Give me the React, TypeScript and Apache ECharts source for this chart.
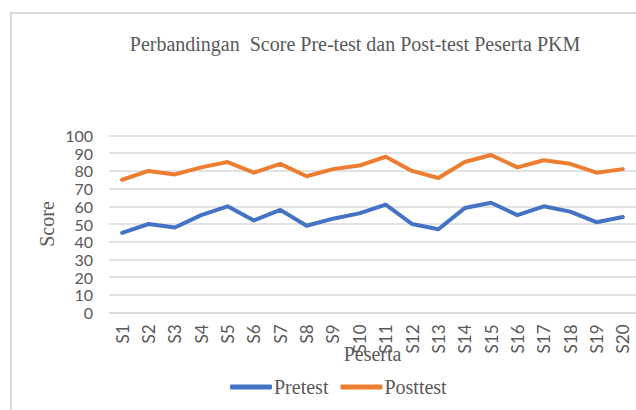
import React, { useEffect, useRef } from "react";
import * as echarts from "echarts";

const categories = ["S1","S2","S3","S4","S5","S6","S7","S8","S9","S10","S11","S12","S13","S14","S15","S16","S17","S18","S19","S20"];
const pretest = [45, 50, 48, 55, 60, 52, 58, 49, 53, 56, 61, 50, 47, 59, 62, 55, 60, 57, 51, 54];
const posttest = [75, 80, 78, 82, 85, 79, 84, 77, 81, 83, 88, 80, 76, 85, 89, 82, 86, 84, 79, 81];
const titleText = "Perbandingan  Score Pre-test dan Post-test Peserta PKM";

export default function App() {
  const ref = useRef<HTMLDivElement>(null);
  useEffect(() => {
    if (!ref.current) return;
    const chart = echarts.init(ref.current, null, { renderer: "svg" });
    const serif = "'Liberation Serif', 'Times New Roman', serif";
    const sans = "Lato, 'Open Sans', sans-serif";
    chart.setOption({
      animation: false,
      backgroundColor: "#ffffff",
      title: {
        text: titleText,
        left: 350,
        textAlign: "center",
        top: 29,
        textStyle: { fontFamily: serif, fontSize: 20, fontWeight: "normal", color: "#595959" },
      },
      graphic: [
        {
          type: "rect",
          shape: { x: 11, y: 13, width: 700, height: 500 },
          style: { fill: "none", stroke: "#d9d9d9", lineWidth: 2 },
          silent: true,
        },
      ],
      legend: {
        data: ["Pretest", "Posttest"],
        left: 225,
        top: 372,
        icon: "roundRect",
        itemWidth: 42,
        itemHeight: 5,
        itemGap: 12,
        textStyle: { fontFamily: serif, fontSize: 20, color: "#595959", padding: [0, 0, 0, -3] },
      },
      grid: { left: 109, top: 135.5, width: 534, height: 177, containLabel: false },
      xAxis: {
        type: "category",
        data: categories,
        boundaryGap: true,
        axisLine: { lineStyle: { color: "#d9d9d9", width: 1.5 } },
        axisTick: { show: false },
        axisLabel: { rotate: 90, margin: 12, fontFamily: sans, fontSize: 17, color: "#595959" },
        name: "Peserta",
        nameLocation: "middle",
        nameGap: 31,
        nameMoveOverlap: false,
        nameTextStyle: { fontFamily: serif, fontSize: 20, color: "#595959" },
      },
      yAxis: {
        type: "value",
        min: 0,
        max: 100,
        interval: 10,
        axisLine: { show: false },
        axisTick: { show: false },
        splitLine: { lineStyle: { color: "#d9d9d9", width: 1.5 } },
        axisLabel: { margin: 16, fontFamily: sans, fontSize: 16, color: "#595959" },
        name: "Score",
        nameLocation: "middle",
        nameRotate: 90,
        nameGap: 52,
        nameMoveOverlap: false,
        nameTextStyle: { fontFamily: serif, fontSize: 20, color: "#595959" },
      },
      series: [
        {
          name: "Pretest",
          type: "line",
          data: pretest,
          symbol: "none",
          lineStyle: { color: "#4472C4", width: 4, cap: "round", join: "round" },
          itemStyle: { color: "#4472C4" },
        },
        {
          name: "Posttest",
          type: "line",
          data: posttest,
          symbol: "none",
          lineStyle: { color: "#ED7D31", width: 4, cap: "round", join: "round" },
          itemStyle: { color: "#ED7D31" },
        },
      ],
    });
    return () => chart.dispose();
  }, []);
  return (
    <div
      ref={ref}
      style={{ position: "absolute", left: 0, top: 0, width: 636, height: 410 }}
    />
  );
}
